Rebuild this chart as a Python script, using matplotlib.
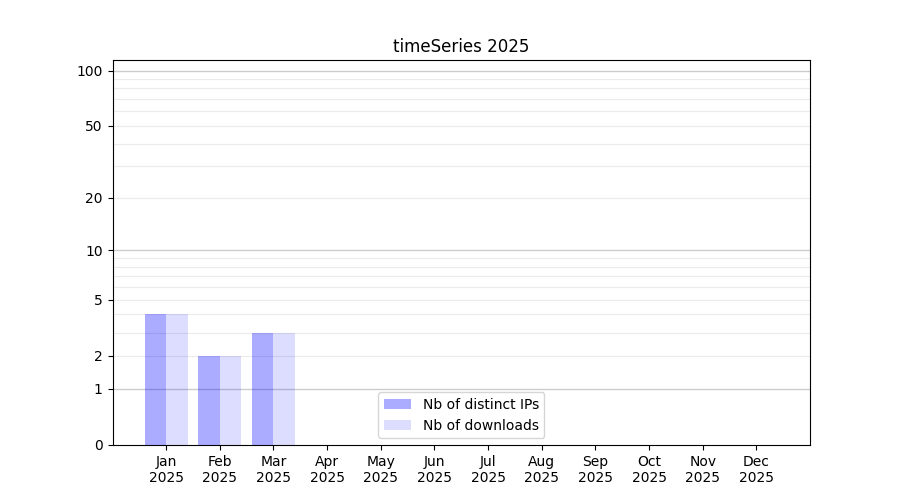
import numpy as np
import matplotlib
matplotlib.use("Agg")
import matplotlib.pyplot as plt
from matplotlib.ticker import FixedLocator, ScalarFormatter

months = ["Jan", "Feb", "Mar", "Apr", "May", "Jun",
          "Jul", "Aug", "Sep", "Oct", "Nov", "Dec"]
year = "2025"
distinct_ips = [4, 2, 3, 0, 0, 0, 0, 0, 0, 0, 0, 0]
downloads = [4, 2, 3, 0, 0, 0, 0, 0, 0, 0, 0, 0]
y_ticks = [0, 1, 2, 5, 10, 20, 50, 100]
major_grid = [1, 10, 100]
minor_grid = [2, 3, 4, 5, 6, 7, 8, 9, 20, 30, 40, 50, 60, 70, 80, 90]


def fwd(y):
    return np.log10(1 + np.clip(y, 0, None))


def inv(y):
    return 10 ** y - 1


def main():
    fig, ax = plt.subplots(figsize=(9, 5), dpi=100)
    x = np.arange(len(months))
    w = 0.4

    ax.set_yscale("function", functions=(fwd, inv))
    for v in minor_grid:
        ax.axhline(v, color="#ebebeb", lw=0.8, zorder=0)
    for v in major_grid:
        ax.axhline(v, color="#cccccc", lw=1.0, zorder=0)

    ax.bar(x - w / 2, distinct_ips, w, color="blue", alpha=0.33,
           label="Nb of distinct IPs", zorder=2)
    ax.bar(x + w / 2, downloads, w, color="blue", alpha=0.135,
           label="Nb of downloads", zorder=2)

    ax.set_ylim(0, 114)
    ax.yaxis.set_major_locator(FixedLocator(y_ticks))
    ax.yaxis.set_major_formatter(ScalarFormatter())
    ax.yaxis.set_minor_locator(FixedLocator([]))

    ax.set_xlim(-1, 12)
    ax.set_xticks(x)
    ax.set_xticklabels([m + "\n" + year for m in months])

    ax.set_title("timeSeries 2025")
    ax.legend(loc="lower center")
    plt.savefig("out.png")


if __name__ == "__main__":
    main()
